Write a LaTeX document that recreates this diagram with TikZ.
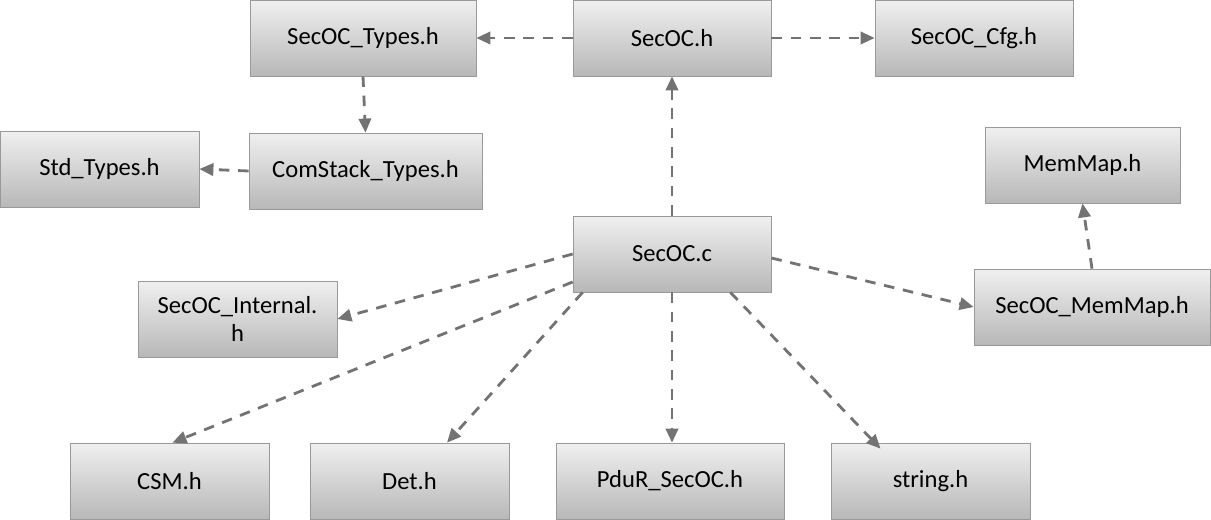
\documentclass[tikz,border=0pt]{standalone}
\usepackage{fontspec}
\setmainfont{Carlito}
\usetikzlibrary{arrows.meta}
\begin{document}
\begin{tikzpicture}[x=0.02cm,y=-0.02cm,
  box/.style={draw=black!40,top color=black!6,bottom color=black!28,minimum width=#1*0.02cm,minimum height=1.52cm,inner sep=2pt,font=\fontsize{14}{16}\selectfont,align=center},
  box/.default=199,
  dep/.style={draw=black!55,line width=1.6pt,dash pattern=on 6pt off 5pt,-{Triangle[length=8pt,width=7pt]}}]
\useasboundingbox (0,0) rectangle (1211,520);
\node[box=226] (types) at (363,38) {SecOC\_Types.h};
\node[box=198] (hdr) at (672,38) {SecOC.h};
\node[box=198] (cfg) at (974,38) {SecOC\_Cfg.h};
\node[box=199] (std) at (99.5,169) {Std\_Types.h};
\node[box=233] (com) at (365.5,171) {ComStack\_Types.h};
\node[box=195] (mem) at (1082.5,165) {MemMap.h};
\node[box=198] (c) at (672,254) {SecOC.c};
\node[box=236] (smm) at (1092,307) {SecOC\_MemMap.h};
\node[box=199,text width=3.3cm] (int) at (237.5,319) {SecOC\_Internal.\\h};
\node[box=199] (csm) at (169.5,481) {CSM.h};
\node[box=199] (det) at (409.5,481) {Det.h};
\node[box=228] (pdur) at (670,481) {PduR\_SecOC.h};
\node[box=199] (str) at (930.5,481) {string.h};
\draw[dep] (hdr.west) -- (types.east);
\draw[dep] (hdr.east) -- (cfg.east -| cfg.west);
\draw[dep] (types.south) -- (com.north);
\draw[dep] (com.west) -- (std.east);
\draw[dep] (c.north) -- (hdr.south);
\draw[dep] (c.west) -- (int.east);
\draw[dep] ([yshift=-0.56cm]c.west) -- ([xshift=0.06cm]csm.north);
\draw[dep] ([xshift=0.2cm]c.south west) -- ([xshift=0.75cm]det.north);
\draw[dep] (c.south) -- (pdur.north -| c.south);
\draw[dep] ([xshift=-0.82cm]c.south east) -- ([xshift=-1.0cm,yshift=-0.12cm]str.north);
\draw[dep] ([yshift=-0.08cm]c.east) -- (smm.west);
\draw[dep] (smm.north) -- (mem.south);
\end{tikzpicture}
\end{document}
